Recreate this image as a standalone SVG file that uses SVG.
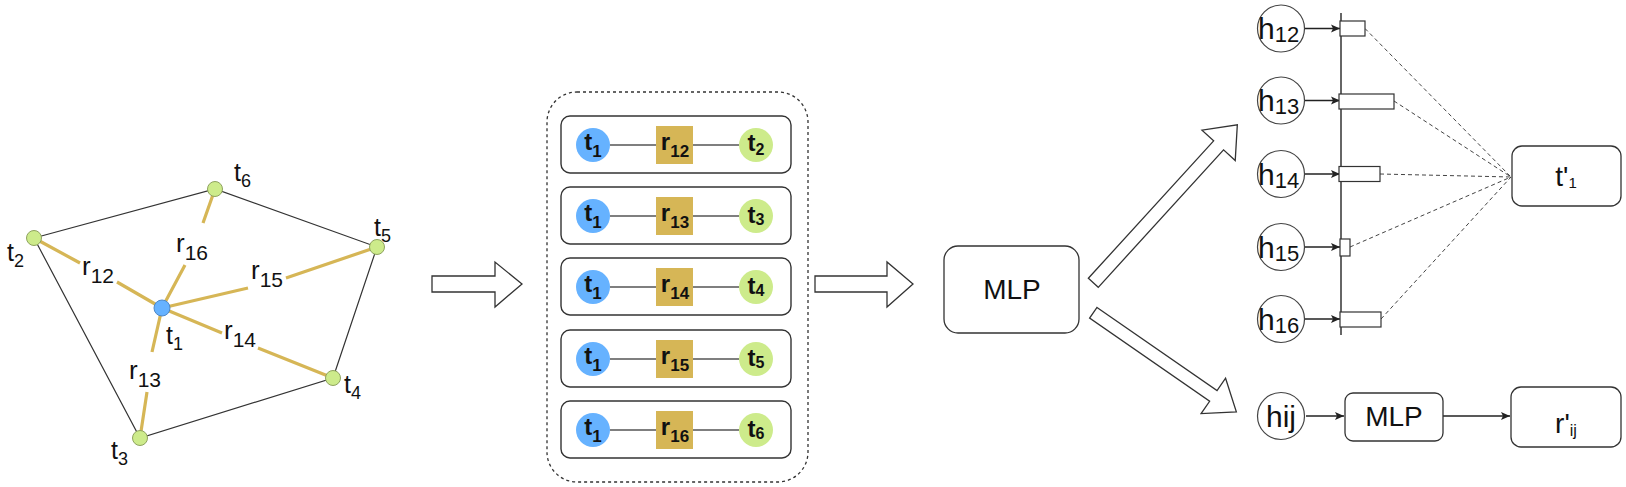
<svg xmlns="http://www.w3.org/2000/svg" width="1626" height="487" viewBox="0 0 1626 487">
<defs>
<style>
text{font-family:"Liberation Sans",Arial,Helvetica,sans-serif;fill:#111;}
.edge{stroke:#333;stroke-width:1.2;fill:none;}
.rel{stroke:#D6B656;stroke-width:3.2;fill:none;stroke-linecap:butt;}
.gn{fill:#CDEB8B;stroke:#8FA35F;stroke-width:1;}
.bn{fill:#66B2FF;stroke:#4F88C6;stroke-width:1;}
.lbl{font-size:25px;}
.sub{font-size:18px;}
.rl{font-size:26px;}
.rsub{font-size:21px;}
.row{fill:#fff;stroke:#333;stroke-width:1.4;}
.rowline{stroke:#555;stroke-width:1.5;}
.tb{fill:#66B2FF;}
.tg{fill:#CDEB8B;}
.sq{fill:#D6B656;}
.bt{font-size:24px;font-weight:bold;}
.bs{font-size:17px;font-weight:bold;}
.gs{font-size:16px;font-weight:bold;}
.hollow{fill:#fff;stroke:#333;stroke-width:1.3;stroke-linejoin:miter;}
.box{fill:#fff;stroke:#333;stroke-width:1.3;}
.circ{fill:#fff;stroke:#444;stroke-width:1.2;}
.bar{fill:#fff;stroke:#333;stroke-width:1.2;}
.arr{stroke:#222;stroke-width:1.3;fill:none;marker-end:url(#ah);}
.dash{stroke:#444;stroke-width:1;stroke-dasharray:4 3;fill:none;}
.big{font-size:28px;}
.h{font-size:30px;}
.hs{font-size:22px;}
</style>
<marker id="ah" markerUnits="userSpaceOnUse" markerWidth="10" markerHeight="10" refX="9" refY="5" orient="auto">
<path d="M0,1 L9,5 L0,9 L2,5 z" fill="#222"/>
</marker>
</defs>
<rect width="1626" height="487" fill="#fff"/>

<g id="connectors">
<polygon class="edge" points="34,238 215,189 377,247 333,378 140,438"/>
<path class="rel" d="M34,238 L80,263 M117,282 L162,308"/>
<path class="rel" d="M162,308 L185,265 M203,223 L215,189"/>
<path class="rel" d="M162,308 L248,288 M286,278 L377,247"/>
<path class="rel" d="M162,308 L222,333 M258,348 L333,378"/>
<path class="rel" d="M162,308 L152,352 M147,392 L140,438"/>
<polygon class="hollow" points="432,276 495,276 495,262 522,284 495,307 495,292 432,292"/>
<polygon class="hollow" points="815,276 887,276 887,262 913,284 887,307 887,292 815,292"/>
<polygon class="hollow" transform="translate(1093.3,282.8) rotate(-47.65)" points="0,-6.7 186,-6.7 186,-22.5 213.8,0 186,22.5 186,6.7 0,6.7"/>
<polygon class="hollow" transform="translate(1093.3,312.8) rotate(34.7)" points="0,-6.5 146,-6.5 146,-21.5 174,0 146,21.5 146,6.5 0,6.5"/>
<line x1="1341" y1="13" x2="1341" y2="335" stroke="#333" stroke-width="1.5"/>
<line class="arr" x1="1305" y1="28.5" x2="1340" y2="28.5"/>
<line class="arr" x1="1305" y1="100.5" x2="1340" y2="100.5"/>
<line class="arr" x1="1305" y1="174" x2="1340" y2="174"/>
<line class="arr" x1="1305" y1="247" x2="1340" y2="247"/>
<line class="arr" x1="1305" y1="319" x2="1340" y2="319"/>
<path class="dash" d="M1365,28.5 L1511,177 M1394,101 L1511,177 M1380,174 L1511,177 M1350,247 L1511,177 M1381,319 L1511,177"/>
<line class="arr" x1="1306" y1="416" x2="1344" y2="416"/>
<line class="arr" x1="1443" y1="416" x2="1510" y2="416"/>
</g>

<g id="graph">
<g id="node-t6"><circle class="gn" cx="215" cy="189" r="7.5"/><text class="lbl" x="234" y="181">t<tspan class="sub" dy="6">6</tspan></text></g>
<g id="node-t2"><circle class="gn" cx="34" cy="238" r="7.5"/><text class="lbl" x="7" y="261">t<tspan class="sub" dy="6">2</tspan></text></g>
<g id="node-t5"><circle class="gn" cx="377" cy="247" r="7.5"/><text class="lbl" x="374" y="236">t<tspan class="sub" dy="6">5</tspan></text></g>
<g id="node-t4"><circle class="gn" cx="333" cy="378" r="7.5"/><text class="lbl" x="344" y="393">t<tspan class="sub" dy="6">4</tspan></text></g>
<g id="node-t3"><circle class="gn" cx="140" cy="438" r="7.5"/><text class="lbl" x="111" y="459">t<tspan class="sub" dy="6">3</tspan></text></g>
<g id="node-t1"><circle class="bn" cx="162" cy="308" r="8"/><text class="lbl" x="166" y="344">t<tspan class="sub" dy="6">1</tspan></text></g>
<g id="label-r12"><text class="rl" x="82" y="275">r<tspan class="rsub" dy="8">12</tspan></text></g>
<g id="label-r16"><text class="rl" x="176" y="252">r<tspan class="rsub" dy="8">16</tspan></text></g>
<g id="label-r15"><text class="rl" x="251" y="279">r<tspan class="rsub" dy="8">15</tspan></text></g>
<g id="label-r14"><text class="rl" x="224" y="339">r<tspan class="rsub" dy="8">14</tspan></text></g>
<g id="label-r13"><text class="rl" x="129" y="379">r<tspan class="rsub" dy="8">13</tspan></text></g>
</g>

<g id="triples">
<rect x="547" y="92" width="261" height="390" rx="30" fill="none" stroke="#333" stroke-width="1.3" stroke-dasharray="3 3"/>
<g id="row-12">
<rect class="row" x="561" y="116" width="230" height="57" rx="9"/>
<line class="rowline" x1="610" y1="145" x2="656" y2="145"/><line class="rowline" x1="693" y1="145" x2="739" y2="145"/>
<circle class="tb" cx="593" cy="145" r="17"/><rect class="sq" x="656" y="126" width="37" height="38"/><circle class="tg" cx="756" cy="145" r="17"/>
<text class="bt" x="593" y="150" text-anchor="middle">t<tspan class="bs" dy="7">1</tspan></text>
<text class="bt" x="675" y="150" text-anchor="middle">r<tspan class="bs" dy="7">12</tspan></text>
<text class="bt" x="756" y="151" text-anchor="middle">t<tspan class="gs" dy="4">2</tspan></text>
</g>
<g id="row-13">
<rect class="row" x="561" y="187" width="230" height="57" rx="9"/>
<line class="rowline" x1="610" y1="216" x2="656" y2="216"/><line class="rowline" x1="693" y1="216" x2="739" y2="216"/>
<circle class="tb" cx="593" cy="216" r="17"/><rect class="sq" x="656" y="197" width="37" height="38"/><circle class="tg" cx="756" cy="216" r="17"/>
<text class="bt" x="593" y="221" text-anchor="middle">t<tspan class="bs" dy="7">1</tspan></text>
<text class="bt" x="675" y="221" text-anchor="middle">r<tspan class="bs" dy="7">13</tspan></text>
<text class="bt" x="756" y="223" text-anchor="middle">t<tspan class="gs" dy="2">3</tspan></text>
</g>
<g id="row-14">
<rect class="row" x="561" y="258" width="230" height="57" rx="9"/>
<line class="rowline" x1="610" y1="287" x2="656" y2="287"/><line class="rowline" x1="693" y1="287" x2="739" y2="287"/>
<circle class="tb" cx="593" cy="287" r="17"/><rect class="sq" x="656" y="268" width="37" height="38"/><circle class="tg" cx="756" cy="287" r="17"/>
<text class="bt" x="593" y="292" text-anchor="middle">t<tspan class="bs" dy="7">1</tspan></text>
<text class="bt" x="675" y="292" text-anchor="middle">r<tspan class="bs" dy="7">14</tspan></text>
<text class="bt" x="756" y="294" text-anchor="middle">t<tspan class="gs" dy="2">4</tspan></text>
</g>
<g id="row-15">
<rect class="row" x="561" y="330" width="230" height="57" rx="9"/>
<line class="rowline" x1="610" y1="359" x2="656" y2="359"/><line class="rowline" x1="693" y1="359" x2="739" y2="359"/>
<circle class="tb" cx="593" cy="359" r="17"/><rect class="sq" x="656" y="340" width="37" height="38"/><circle class="tg" cx="756" cy="359" r="17"/>
<text class="bt" x="593" y="364" text-anchor="middle">t<tspan class="bs" dy="7">1</tspan></text>
<text class="bt" x="675" y="364" text-anchor="middle">r<tspan class="bs" dy="7">15</tspan></text>
<text class="bt" x="756" y="366" text-anchor="middle">t<tspan class="gs" dy="2">5</tspan></text>
</g>
<g id="row-16">
<rect class="row" x="561" y="401" width="230" height="57" rx="9"/>
<line class="rowline" x1="610" y1="430" x2="656" y2="430"/><line class="rowline" x1="693" y1="430" x2="739" y2="430"/>
<circle class="tb" cx="593" cy="430" r="17"/><rect class="sq" x="656" y="411" width="37" height="38"/><circle class="tg" cx="756" cy="430" r="17"/>
<text class="bt" x="593" y="435" text-anchor="middle">t<tspan class="bs" dy="7">1</tspan></text>
<text class="bt" x="675" y="435" text-anchor="middle">r<tspan class="bs" dy="7">16</tspan></text>
<text class="bt" x="756" y="437" text-anchor="middle">t<tspan class="gs" dy="2">6</tspan></text>
</g>
</g>

<g id="mlp-main"><rect class="box" x="944" y="246" width="135" height="87" rx="14"/><text class="big" x="1012" y="299" text-anchor="middle">MLP</text></g>

<g id="h12"><circle class="circ" cx="1281" cy="28.5" r="23.5"/><text class="h" x="1258" y="39">h<tspan class="hs" dy="3">12</tspan></text></g>
<g id="h13"><circle class="circ" cx="1281" cy="100.5" r="23.5"/><text class="h" x="1258" y="111">h<tspan class="hs" dy="3">13</tspan></text></g>
<g id="h14"><circle class="circ" cx="1281" cy="174" r="23.5"/><text class="h" x="1258" y="184.5">h<tspan class="hs" dy="3">14</tspan></text></g>
<g id="h15"><circle class="circ" cx="1281" cy="247" r="23.5"/><text class="h" x="1258" y="257.5">h<tspan class="hs" dy="3">15</tspan></text></g>
<g id="h16"><circle class="circ" cx="1281" cy="319" r="23.5"/><text class="h" x="1258" y="329.5">h<tspan class="hs" dy="3">16</tspan></text></g>

<g id="bars">
<rect class="bar" x="1340" y="21" width="25" height="15"/>
<rect class="bar" x="1339" y="94" width="55" height="15"/>
<rect class="bar" x="1339" y="166.5" width="41" height="15"/>
<rect class="bar" x="1340" y="239" width="10" height="17"/>
<rect class="bar" x="1340" y="312" width="41" height="15"/>
</g>

<g id="t1-prime"><rect class="box" x="1512" y="146" width="109" height="60" rx="10"/><text class="big" x="1566" y="186" text-anchor="middle">t'<tspan font-size="15" dy="2">1</tspan></text></g>

<g id="hij"><circle class="circ" cx="1281" cy="416" r="23.5"/><text class="h" x="1281" y="426.5" text-anchor="middle">hij</text></g>
<g id="mlp-small"><rect class="box" x="1345" y="393" width="98" height="48" rx="8"/><text class="big" x="1394" y="426" text-anchor="middle">MLP</text></g>
<g id="r-prime"><rect class="box" x="1511" y="387" width="110" height="60" rx="10"/><text class="big" x="1566" y="433" text-anchor="middle">r'<tspan font-size="16" dy="3">ij</tspan></text></g>
</svg>
